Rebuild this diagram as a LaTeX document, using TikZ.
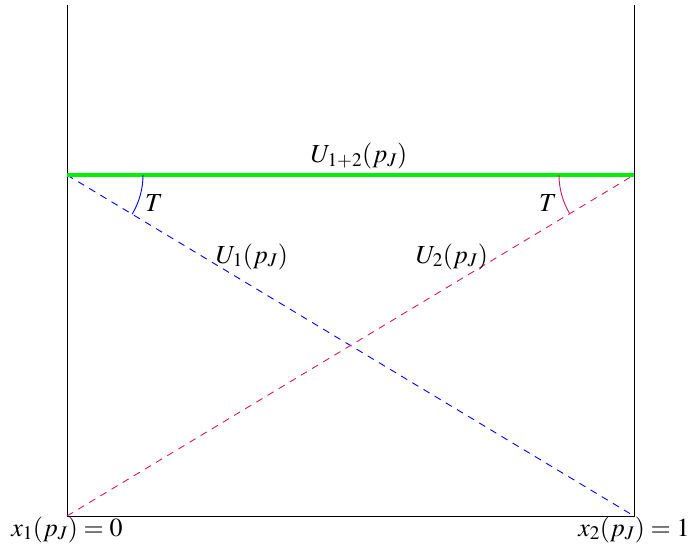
\documentclass[tikz,border=0pt]{standalone}
\usepackage{mathptmx}
\definecolor{myred}{RGB}{214,24,90}
\definecolor{mygreen}{RGB}{0,240,0}
\begin{document}
\begin{tikzpicture}[x=1pt,y=1pt,
  lbl/.style={font=\fontsize{26}{31}\selectfont, inner sep=0pt, anchor=base},
  axis/.style={black, line width=1pt},
  dsh/.style={line width=0.9pt, dash pattern=on 7pt off 6pt}]
\useasboundingbox (0,0) rectangle (689,550);
\coordinate (LT) at (67,545);
\coordinate (LB) at (67,34);
\coordinate (RT) at (634,545);
\coordinate (RB) at (634,34);
\coordinate (GL) at (67,375);
\coordinate (GR) at (634,375);
\draw[axis] (LT) -- (LB) -- (RB) -- (RT);
\draw[dsh, blue] (GL) -- (RB);
\draw[dsh, myred] (LB) -- (GR);
\draw[mygreen, line width=4pt] (GL) -- (GR);
\draw[blue, line width=0.9pt] ([xshift=76pt]GL) arc[start angle=0, end angle=-31, radius=76pt];
\draw[myred, line width=0.9pt] ([xshift=-75pt]GR) arc[start angle=180, end angle=211, radius=75pt];
\node[lbl] (u12) at (359,387) {$U_{1+2}(p_J)$};
\node[lbl] (t1) at (154,338) {$T$};
\node[lbl] (t2) at (548,338) {$T$};
\node[lbl] (u1) at (252,287) {$U_1(p_J)$};
\node[lbl] (u2) at (452,287) {$U_2(p_J)$};
\node[lbl] (x1) at (67,14) {$x_1(p_J)=0$};
\node[lbl] (x2) at (634,14) {$x_2(p_J)=1$};
\end{tikzpicture}
\end{document}
